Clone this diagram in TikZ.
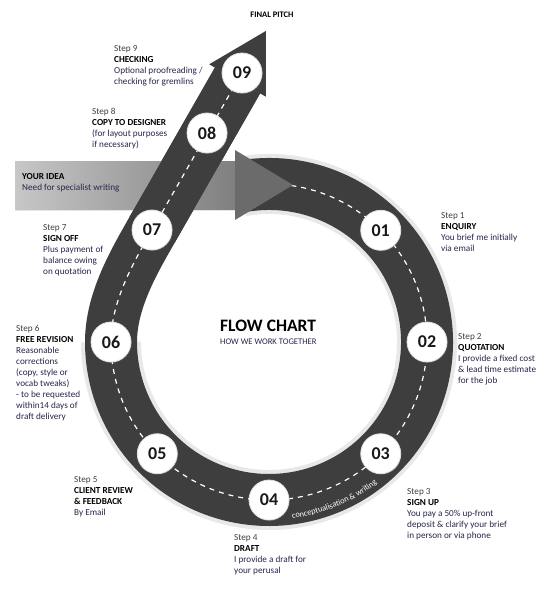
\documentclass[tikz,border=0pt]{standalone}
\usepackage{fontspec}
\setmainfont{Carlito}
\usetikzlibrary{calc,decorations.text,shadows}
\definecolor{roadgrey}{HTML}{3E3E3E}
\definecolor{ink}{HTML}{26264A}
\begin{document}
\begin{tikzpicture}[x=1pt, y=-1pt,
    font=\fontsize{9.2}{11}\selectfont,
    road/.style={draw=roadgrey, line width=52pt},
    lane/.style={draw=white, line width=1.2pt, dash pattern=on 5pt off 5pt},
    stepnum/.style={circle, fill=white, draw=black!12, line width=0.8pt, minimum size=40pt, inner sep=0pt, font=\fontsize{18}{18}\selectfont\bfseries, text=black!90, drop shadow={opacity=0.25, shadow xshift=0.8pt, shadow yshift=-1pt}},
    stepinfo/.style={anchor=north west, align=left, inner sep=0pt, text=ink}
  ]
  \useasboundingbox (0,0) rectangle (550,591);
  \coordinate (c) at (269,342);
  \coordinate (rs) at ($(c)+(-100:158)$);
  \coordinate (p07) at (152,230);
  \coordinate (p08) at (207,133);
  \coordinate (p09) at (242,73);
  \coordinate (hb) at (237.5,80.5);
  \coordinate (ht) at (265.8,31);
  \coordinate (hl) at (209.2,64.3);
  \coordinate (hr) at (265.8,96.7);

  \draw[draw=black!9, line width=60pt, shift={(2,3)}] (rs) arc[start angle=-100, end angle=180, radius=158];
  \draw[road] (rs) arc[start angle=-100, end angle=180, radius=158] .. controls (111,300) and (135,260) .. (p07) -- (hb);
  \draw[lane] (rs) arc[start angle=-100, end angle=180, radius=158] .. controls (111,300) and (135,260) .. (p07) -- (hb);

  \shade[left color=black!22, right color=black!50, drop shadow={opacity=0.2, shadow xshift=0pt, shadow yshift=-2pt}] (15,161) rectangle (236,209);
  \fill[black!58] (235,150) -- (293,185) -- (235,220) -- cycle;

  \draw[road] (p07) -- (hb);
  \fill[roadgrey] (hl) -- (ht) -- (hr) -- cycle;
  \draw[lane] (p07) -- (hb);

  \path[decorate, decoration={text along path, text align=center, text format delimiters={|}{|},
      text={|\fontsize{8.3}{8.3}\selectfont\color{white}|conceptualisation {\&} writing}}]
    ($(c)+(84:178)$) arc[start angle=84, end angle=51, radius=178];

  \foreach \n/\a in {01/-45,02/0,03/45,04/90,05/135,06/180}
    \node[stepnum] (n\n) at ($(c)+(\a:158)$) {\n};
  \node[stepnum] (n07) at (p07) {07};
  \node[stepnum] (n08) at (p08) {08};
  \node[stepnum] (n09) at (p09) {09};

  \node[inner sep=0pt, font=\fontsize{8.5}{8.5}\selectfont\bfseries] (final) at (272,15) {FINAL PITCH};
  \node[stepinfo] (idea) at (22,173) {\textcolor{black}{\textbf{YOUR IDEA}}\\Need for specialist writing};
  \node[anchor=north west, inner sep=0pt, font=\fontsize{17.5}{17.5}\selectfont\bfseries] (title) at (220,320) {FLOW CHART};
  \node[anchor=north west, inner sep=0pt, font=\fontsize{8.6}{8.6}\selectfont, text=ink] (sub) at (220,339) {HOW WE WORK TOGETHER};

  \node[stepinfo] (t1) at (441,212) {\textcolor{black!75}{Step 1}\\\textcolor{black}{\textbf{ENQUIRY}}\\You brief me initially\\via email};
  \node[stepinfo] (t2) at (458,333) {\textcolor{black!75}{Step 2}\\\textcolor{black}{\textbf{QUOTATION}}\\I provide a fixed cost\\\& lead time estimate\\for the job};
  \node[stepinfo] (t3) at (407,488) {\textcolor{black!75}{Step 3}\\\textcolor{black}{\textbf{SIGN UP}}\\You pay a 50\% up-front\\deposit \& clarify your brief\\in person or via phone};
  \node[stepinfo] (t4) at (234,534) {\textcolor{black!75}{Step 4}\\\textcolor{black}{\textbf{DRAFT}}\\I provide a draft for\\your perusal};
  \node[stepinfo] (t5) at (74,476) {\textcolor{black!75}{Step 5}\\\textcolor{black}{\textbf{CLIENT REVIEW}}\\\textcolor{black}{\textbf{\& FEEDBACK}}\\By Email};
  \node[stepinfo] (t6) at (16,325) {\textcolor{black!75}{Step 6}\\\textcolor{black}{\textbf{FREE REVISION}}\\Reasonable\\corrections\\(copy, style or\\vocab tweaks)\\- to be requested\\within14 days of\\draft delivery};
  \node[stepinfo] (t7) at (43,224) {\textcolor{black!75}{Step 7}\\\textcolor{black}{\textbf{SIGN OFF}}\\Plus payment of\\balance owing\\on quotation};
  \node[stepinfo] (t8) at (92,108) {\textcolor{black!75}{Step 8}\\\textcolor{black}{\textbf{COPY TO DESIGNER}}\\(for layout purposes\\if necessary)};
  \node[stepinfo] (t9) at (114,45) {\textcolor{black!75}{Step 9}\\\textcolor{black}{\textbf{CHECKING}}\\Optional proofreading /\\checking for gremlins};
\end{tikzpicture}
\end{document}
